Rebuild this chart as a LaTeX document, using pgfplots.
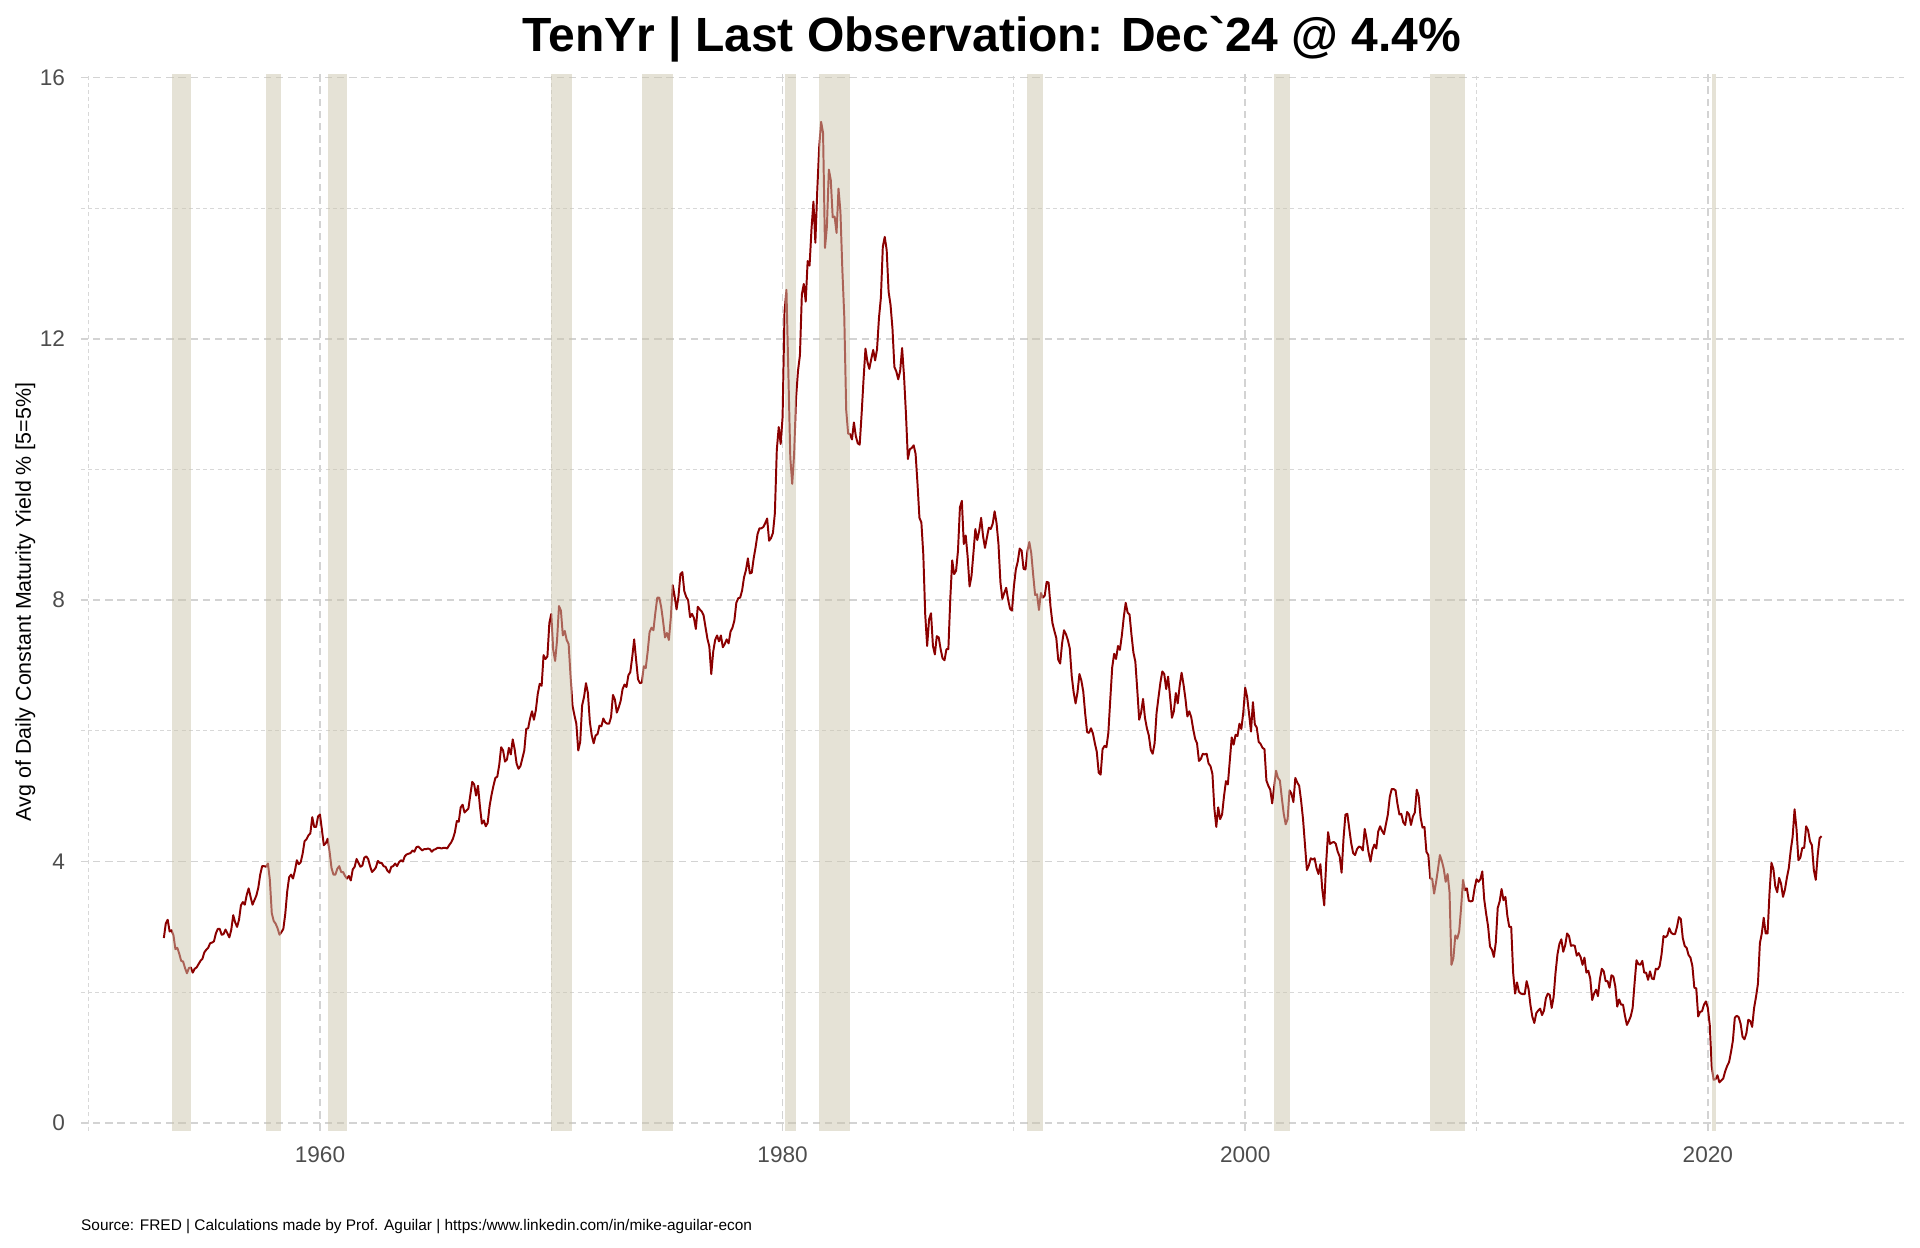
\documentclass[border=0pt]{standalone}
\usepackage{fontspec}
\setmainfont{Liberation Sans}[Ligatures=TeXOff]
\usepackage{pgfplots}
\pgfplotsset{compat=1.18}
\definecolor{linered}{RGB}{139,0,0}
\definecolor{recess}{RGB}{203,197,173}
\definecolor{gridmaj}{RGB}{211,211,211}
\definecolor{gridmin}{RGB}{216,216,216}
\definecolor{ticktext}{RGB}{77,77,77}
\begin{document}
\begin{tikzpicture}[x=1bp,y=1bp]
\path[use as bounding box] (0,0) rectangle (960,624);
\begin{axis}[
  at={(40.4bp,58.6bp)}, anchor=south west,
  scale only axis, width=911.8bp, height=528.3bp,
  xmin=1949.66, xmax=2028.5, ymin=-0.12, ymax=16.05,
  axis line style={draw=none},
  xtick={1960,1980,2000,2020}, xticklabels={1960,1980,2000,2020},
  minor xtick={1950,1970,1990,2010},
  ytick={0,4,8,12,16}, minor ytick={2,6,10,14},
  grid=both,
  major grid style={gridmaj, line width=0.8bp, dash pattern=on 3.7bp off 2.4bp},
  minor grid style={gridmin, line width=0.5bp, dash pattern=on 2bp off 1.6bp},
  major tick length=0pt, minor tick length=0pt,
  tick style={draw=none},
  /pgf/number format/assume math mode=true,
  xticklabel style={font=\fontsize{11.3bp}{13bp}\selectfont, text=ticktext, anchor=north, inner sep=0pt, yshift=-8bp},
  yticklabel style={font=\fontsize{11.3bp}{13bp}\selectfont, text=ticktext, anchor=east, inner sep=0pt, xshift=-7.7bp},
  clip=true,
]
\addplot[linered, line width=0.98bp, line join=round] table[row sep=\\, x expr={1953.25+\coordindex/12}, y=v] {
v\\
2.83\\3.05\\3.11\\2.93\\2.95\\2.87\\2.66\\2.68\\2.59\\
2.48\\2.47\\2.37\\2.29\\2.37\\2.38\\2.30\\2.36\\2.38\\2.43\\2.48\\2.51\\
2.61\\2.65\\2.68\\2.75\\2.76\\2.78\\2.90\\2.97\\2.97\\2.88\\2.89\\2.96\\
2.90\\2.84\\2.96\\3.18\\3.07\\3.00\\3.11\\3.33\\3.38\\3.34\\3.49\\3.59\\
3.46\\3.34\\3.41\\3.48\\3.60\\3.80\\3.93\\3.93\\3.92\\3.97\\3.72\\3.21\\
3.09\\3.05\\2.98\\2.88\\2.92\\2.97\\3.20\\3.54\\3.76\\3.80\\3.74\\3.86\\
4.02\\3.96\\3.99\\4.12\\4.31\\4.34\\4.40\\4.43\\4.68\\4.53\\4.53\\4.69\\
4.72\\4.49\\4.25\\4.28\\4.35\\4.15\\3.90\\3.80\\3.80\\3.89\\3.93\\3.84\\
3.84\\3.78\\3.74\\3.78\\3.71\\3.88\\3.92\\4.04\\3.98\\3.92\\3.94\\4.06\\
4.08\\4.04\\3.93\\3.84\\3.87\\3.91\\4.01\\3.98\\3.98\\3.93\\3.92\\3.86\\
3.83\\3.92\\3.93\\3.97\\3.93\\3.99\\4.02\\4.00\\4.08\\4.11\\4.12\\4.13\\
4.17\\4.15\\4.22\\4.23\\4.20\\4.17\\4.19\\4.19\\4.20\\4.19\\4.15\\4.18\\
4.19\\4.21\\4.21\\4.20\\4.21\\4.21\\4.20\\4.25\\4.29\\4.35\\4.45\\4.62\\
4.61\\4.83\\4.87\\4.75\\4.78\\4.81\\5.02\\5.22\\5.18\\5.01\\5.16\\4.84\\
4.58\\4.63\\4.54\\4.59\\4.85\\5.02\\5.16\\5.28\\5.30\\5.48\\5.75\\5.70\\
5.53\\5.56\\5.74\\5.64\\5.87\\5.72\\5.50\\5.42\\5.46\\5.58\\5.70\\6.03\\
6.04\\6.19\\6.30\\6.17\\6.32\\6.57\\6.72\\6.69\\7.16\\7.10\\7.14\\7.65\\
7.79\\7.24\\7.07\\7.39\\7.91\\7.84\\7.46\\7.53\\7.39\\7.33\\6.84\\6.39\\
6.24\\6.11\\5.70\\5.83\\6.39\\6.52\\6.73\\6.58\\6.14\\5.93\\5.81\\5.93\\
5.95\\6.08\\6.07\\6.19\\6.13\\6.11\\6.11\\6.21\\6.55\\6.48\\6.28\\6.36\\
6.46\\6.64\\6.71\\6.67\\6.85\\6.90\\7.13\\7.40\\7.09\\6.79\\6.73\\6.74\\
6.99\\6.96\\7.21\\7.51\\7.58\\7.54\\7.81\\8.04\\8.04\\7.90\\7.68\\7.43\\
7.50\\7.39\\7.73\\8.23\\8.06\\7.86\\8.06\\8.40\\8.43\\8.14\\8.05\\8.00\\
7.74\\7.79\\7.73\\7.56\\7.90\\7.86\\7.83\\7.77\\7.59\\7.41\\7.29\\6.87\\
7.21\\7.39\\7.46\\7.37\\7.46\\7.28\\7.33\\7.40\\7.34\\7.52\\7.58\\7.69\\
7.96\\8.03\\8.04\\8.15\\8.35\\8.46\\8.64\\8.41\\8.42\\8.64\\8.81\\9.01\\
9.10\\9.10\\9.12\\9.18\\9.25\\8.91\\8.95\\9.03\\9.33\\10.30\\10.65\\10.39\\
10.80\\12.41\\12.75\\11.47\\10.18\\9.78\\10.25\\11.10\\11.51\\11.75\\12.68\\12.84\\
12.57\\13.19\\13.12\\13.68\\14.10\\13.47\\14.28\\14.94\\15.32\\15.15\\13.39\\13.72\\
14.59\\14.43\\13.86\\13.87\\13.62\\14.30\\13.95\\13.06\\12.34\\10.91\\10.55\\10.54\\
10.46\\10.72\\10.51\\10.40\\10.38\\10.85\\11.38\\11.85\\11.65\\11.54\\11.69\\11.83\\
11.67\\11.84\\12.32\\12.63\\13.41\\13.56\\13.36\\12.72\\12.52\\12.16\\11.57\\11.50\\
11.38\\11.51\\11.86\\11.43\\10.85\\10.16\\10.31\\10.33\\10.37\\10.24\\9.78\\9.26\\
9.19\\8.70\\7.78\\7.30\\7.71\\7.80\\7.30\\7.17\\7.45\\7.43\\7.25\\7.11\\
7.08\\7.25\\7.25\\8.02\\8.61\\8.40\\8.45\\8.76\\9.42\\9.52\\8.86\\8.99\\
8.67\\8.21\\8.37\\8.72\\9.09\\8.92\\9.06\\9.26\\8.98\\8.80\\8.96\\9.11\\
9.09\\9.17\\9.36\\9.18\\8.86\\8.28\\8.02\\8.11\\8.19\\8.01\\7.87\\7.84\\
8.21\\8.47\\8.59\\8.79\\8.76\\8.48\\8.47\\8.75\\8.89\\8.72\\8.39\\8.08\\
8.09\\7.85\\8.11\\8.04\\8.07\\8.28\\8.27\\7.90\\7.65\\7.53\\7.42\\7.09\\
7.03\\7.34\\7.54\\7.48\\7.39\\7.26\\6.84\\6.59\\6.42\\6.59\\6.87\\6.77\\
6.60\\6.26\\5.98\\5.97\\6.04\\5.96\\5.81\\5.68\\5.36\\5.33\\5.72\\5.77\\
5.75\\5.97\\6.48\\6.97\\7.18\\7.10\\7.30\\7.24\\7.46\\7.74\\7.96\\7.81\\
7.78\\7.47\\7.20\\7.06\\6.63\\6.17\\6.28\\6.49\\6.20\\6.04\\5.93\\5.71\\
5.65\\5.81\\6.27\\6.51\\6.74\\6.91\\6.87\\6.64\\6.83\\6.53\\6.20\\6.30\\
6.58\\6.42\\6.69\\6.89\\6.71\\6.49\\6.22\\6.30\\6.21\\6.03\\5.88\\5.81\\
5.54\\5.57\\5.65\\5.64\\5.65\\5.50\\5.46\\5.34\\4.81\\4.53\\4.83\\4.65\\
4.72\\5.00\\5.23\\5.18\\5.54\\5.90\\5.79\\5.94\\5.92\\6.11\\6.03\\6.28\\
6.66\\6.52\\6.26\\5.99\\6.44\\6.10\\6.05\\5.83\\5.80\\5.74\\5.72\\5.24\\
5.16\\5.10\\4.89\\5.14\\5.39\\5.28\\5.24\\4.97\\4.73\\4.57\\4.65\\5.09\\
5.04\\4.91\\5.28\\5.21\\5.16\\4.93\\4.65\\4.26\\3.87\\3.94\\4.05\\4.03\\
4.05\\3.90\\3.81\\3.96\\3.57\\3.33\\3.98\\4.45\\4.27\\4.29\\4.30\\4.27\\
4.15\\4.08\\3.83\\4.35\\4.72\\4.73\\4.50\\4.28\\4.13\\4.10\\4.19\\4.23\\
4.22\\4.17\\4.50\\4.34\\4.14\\4.00\\4.18\\4.26\\4.20\\4.46\\4.54\\4.47\\
4.42\\4.57\\4.72\\4.99\\5.11\\5.11\\5.09\\4.88\\4.72\\4.73\\4.60\\4.56\\
4.76\\4.72\\4.56\\4.69\\4.75\\5.10\\5.00\\4.67\\4.52\\4.53\\4.15\\4.10\\
3.74\\3.74\\3.51\\3.68\\3.88\\4.10\\4.01\\3.89\\3.69\\3.81\\3.53\\2.42\\
2.52\\2.87\\2.82\\2.93\\3.29\\3.72\\3.56\\3.59\\3.40\\3.39\\3.40\\3.59\\
3.73\\3.69\\3.73\\3.85\\3.42\\3.20\\3.01\\2.70\\2.65\\2.54\\2.76\\3.29\\
3.39\\3.58\\3.41\\3.46\\3.17\\3.00\\3.00\\2.30\\1.98\\2.15\\2.01\\1.98\\
1.97\\1.97\\2.17\\2.05\\1.80\\1.62\\1.53\\1.68\\1.72\\1.75\\1.65\\1.72\\
1.91\\1.98\\1.96\\1.76\\1.93\\2.30\\2.58\\2.74\\2.81\\2.62\\2.72\\2.90\\
2.86\\2.71\\2.72\\2.71\\2.56\\2.60\\2.54\\2.42\\2.53\\2.30\\2.33\\2.21\\
1.88\\1.98\\2.04\\1.94\\2.20\\2.36\\2.32\\2.17\\2.17\\2.07\\2.26\\2.24\\
2.09\\1.78\\1.89\\1.81\\1.81\\1.64\\1.50\\1.56\\1.63\\1.76\\2.14\\2.49\\
2.43\\2.42\\2.48\\2.30\\2.30\\2.19\\2.32\\2.21\\2.20\\2.36\\2.35\\2.40\\
2.58\\2.86\\2.84\\2.87\\2.98\\2.91\\2.89\\2.89\\3.00\\3.15\\3.12\\2.83\\
2.71\\2.68\\2.57\\2.53\\2.40\\2.07\\2.06\\1.63\\1.70\\1.71\\1.81\\1.86\\
1.76\\1.50\\0.87\\0.66\\0.67\\0.73\\0.62\\0.65\\0.68\\0.79\\0.87\\0.93\\
1.08\\1.26\\1.61\\1.64\\1.62\\1.52\\1.32\\1.28\\1.37\\1.58\\1.56\\1.47\\
1.76\\1.93\\2.13\\2.75\\2.90\\3.14\\2.90\\2.90\\3.52\\3.98\\3.89\\3.62\\
3.53\\3.75\\3.66\\3.46\\3.57\\3.75\\3.90\\4.17\\4.38\\4.80\\4.50\\4.02\\
4.06\\4.21\\4.21\\4.54\\4.48\\4.31\\4.25\\3.87\\3.72\\4.10\\4.36\\4.39\\
};
\addplot[draw=none, fill=recess, fill opacity=0.5] coordinates {(1953.583,-0.12) (1954.417,-0.12) (1954.417,16.05) (1953.583,16.05)} -- cycle;
\addplot[draw=none, fill=recess, fill opacity=0.5] coordinates {(1957.667,-0.12) (1958.333,-0.12) (1958.333,16.05) (1957.667,16.05)} -- cycle;
\addplot[draw=none, fill=recess, fill opacity=0.5] coordinates {(1960.333,-0.12) (1961.167,-0.12) (1961.167,16.05) (1960.333,16.05)} -- cycle;
\addplot[draw=none, fill=recess, fill opacity=0.5] coordinates {(1970.000,-0.12) (1970.917,-0.12) (1970.917,16.05) (1970.000,16.05)} -- cycle;
\addplot[draw=none, fill=recess, fill opacity=0.5] coordinates {(1973.917,-0.12) (1975.250,-0.12) (1975.250,16.05) (1973.917,16.05)} -- cycle;
\addplot[draw=none, fill=recess, fill opacity=0.5] coordinates {(1980.083,-0.12) (1980.583,-0.12) (1980.583,16.05) (1980.083,16.05)} -- cycle;
\addplot[draw=none, fill=recess, fill opacity=0.5] coordinates {(1981.583,-0.12) (1982.917,-0.12) (1982.917,16.05) (1981.583,16.05)} -- cycle;
\addplot[draw=none, fill=recess, fill opacity=0.5] coordinates {(1990.583,-0.12) (1991.250,-0.12) (1991.250,16.05) (1990.583,16.05)} -- cycle;
\addplot[draw=none, fill=recess, fill opacity=0.5] coordinates {(2001.250,-0.12) (2001.917,-0.12) (2001.917,16.05) (2001.250,16.05)} -- cycle;
\addplot[draw=none, fill=recess, fill opacity=0.5] coordinates {(2008.000,-0.12) (2009.500,-0.12) (2009.500,16.05) (2008.000,16.05)} -- cycle;
\addplot[draw=none, fill=recess, fill opacity=0.5] coordinates {(2020.167,-0.12) (2020.333,-0.12) (2020.333,16.05) (2020.167,16.05)} -- cycle;
\end{axis}
\node[anchor=base, inner sep=0pt, font=\fontsize{24bp}{29bp}\selectfont\bfseries] at (496,598.2) {TenYr | Last Observation: Dec`24 @ 4.4\%};
\node[rotate=90, inner sep=0pt, font=\fontsize{10.7bp}{12bp}\selectfont] at (12.7,323) {Avg of Daily Constant Maturity Yield \% [5=5\%]};
\node[anchor=base west, inner sep=0pt, font=\fontsize{7.7bp}{9bp}\selectfont] at (40.4,8.65) {Source: FRED | Calculations made by Prof. Aguilar | https:/www.linkedin.com/in/mike-aguilar-econ};
\end{tikzpicture}
\end{document}
